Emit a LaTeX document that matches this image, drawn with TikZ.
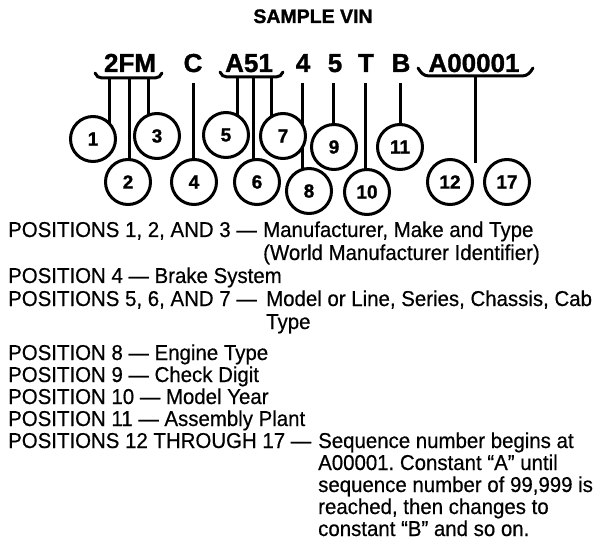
\documentclass[tikz,border=0pt]{standalone}
\usepackage{fontspec}
\setmainfont[FakeBold=0.5,FakeStretch=0.95]{Liberation Sans}
\newfontfamily\heavyfont[UprightFont={* Bold},FakeBold=1.2]{Liberation Sans}
\usetikzlibrary{backgrounds}
\frenchspacing
\begin{document}
\begin{tikzpicture}[x=1pt,y=-1pt,
  txt/.style={anchor=base west,inner sep=0pt,font=\fontsize{21.5}{22}\selectfont},
  ttl/.style={anchor=base,inner sep=0pt,font=\heavyfont\fontsize{19.5}{22}\selectfont},
  vin/.style={anchor=base,inner sep=0pt,font=\heavyfont\fontsize{26}{28}\selectfont},
  poscirc/.style={circle,draw,line width=3pt,fill=white,minimum size=45pt,inner sep=0pt,
    font=\heavyfont\fontsize{19}{20}\selectfont},
  lead/.style={line width=3pt},
  brk/.style={line width=3pt,line cap=round}]
\useasboundingbox (0,0) rectangle (608,556);

% title
\node[ttl] (title) at (313,23) {SAMPLE VIN};

% VIN characters
\node[vin] (v1) at (130,72) {2FM};
\node[vin] (v2) at (193,72) {C};
\node[vin] (v3) at (249,72) {A51};
\node[vin] (v4) at (303,72) {4};
\node[vin] (v5) at (335,72) {5};
\node[vin] (v6) at (366,72) {T};
\node[vin] (v7) at (401,72) {B};
\node[vin] (v8) at (474,72) {A00001};

% position circles
\node[poscirc] (c1) at (93,139) {1};
\node[poscirc] (c2) at (128,182) {2};
\node[poscirc] (c3) at (157,136) {3};
\node[poscirc] (c4) at (194,182) {4};
\node[poscirc] (c5) at (226,135) {5};
\node[poscirc] (c6) at (257,182) {6};
\node[poscirc] (c7) at (283,136) {7};
\node[poscirc] (c8) at (309,191) {8};
\node[poscirc] (c9) at (334,147) {9};
\node[poscirc] (c10) at (367,192) {10};
\node[poscirc] (c11) at (400,147) {11};
\node[poscirc] (c12) at (450,182) {12};
\node[poscirc] (c17) at (507,182) {17};

% lead starts
\coordinate (t1) at (109,78);
\coordinate (t2) at (129,78);
\coordinate (t3) at (148,78);
\coordinate (t4) at (193,83);
\coordinate (t5) at (237,77);
\coordinate (t6) at (253,77);
\coordinate (t7) at (271,77);
\coordinate (t8) at (302,83);
\coordinate (t9) at (333,83);
\coordinate (t10) at (365,83);
\coordinate (t11) at (400,83);
\coordinate (t12) at (475,76);
\coordinate (e12) at (475,163);

\begin{scope}[on background layer]
  % brackets
  \draw[brk] (95,73) to[out=-70,in=180] (102,78) -- (155,78) to[out=0,in=-110] (162,73);
  \draw[brk] (220,72) to[out=-70,in=180] (227,77) -- (276,77) to[out=0,in=-110] (283,72);
  \draw[brk] (418,68) to[out=-60,in=180] (429,76) -- (522,76) to[out=0,in=-120] (533,68);
  % leads
  \draw[lead] (t1) -- (t1 |- c1);
  \draw[lead] (t2) -- (t2 |- c2);
  \draw[lead] (t3) -- (t3 |- c3);
  \draw[lead] (t4) -- (t4 |- c4);
  \draw[lead] (t5) -- (t5 |- c5);
  \draw[lead] (t6) -- (t6 |- c6);
  \draw[lead] (t7) -- (t7 |- c7);
  \draw[lead] (t8) -- (t8 |- c8);
  \draw[lead] (t9) -- (t9 |- c9);
  \draw[lead] (t10) -- (t10 |- c10);
  \draw[lead] (t11) -- (t11 |- c11);
  \draw[lead] (t12) -- (e12);
\end{scope}

% legend
\node[txt] (l1a) at (8,237) {POSITIONS 1, 2, AND 3 —};
\node[txt] (l1b) at (263,237) {Manufacturer, Make and Type};
\node[txt] (l2) at (263,260) {(World Manufacturer Identifier)};
\node[txt] (l3) at (8,283) {POSITION 4 — Brake System};
\node[txt] (l4a) at (8,306) {POSITIONS 5, 6, AND 7 —};
\node[txt] (l4b) at (266,306) {Model or Line, Series, Chassis, Cab};
\node[txt] (l5) at (266,329) {Type};
\node[txt] (l6) at (8,360) {POSITION 8 — Engine Type};
\node[txt] (l7) at (8,382) {POSITION 9 — Check Digit};
\node[txt] (l8) at (8,404) {POSITION 10 — Model Year};
\node[txt] (l9) at (8,426) {POSITION 11 — Assembly Plant};
\node[txt] (l10a) at (8,448) {POSITIONS 12 THROUGH 17 —};
\node[txt] (l10b) at (318,448) {Sequence number begins at};
\node[txt] (l11) at (318,470) {A00001. Constant “A” until};
\node[txt] (l12) at (318,492) {sequence number of 99,999 is};
\node[txt] (l13) at (318,514) {reached, then changes to};
\node[txt] (l14) at (318,536) {constant “B” and so on.};
\end{tikzpicture}
\end{document}
